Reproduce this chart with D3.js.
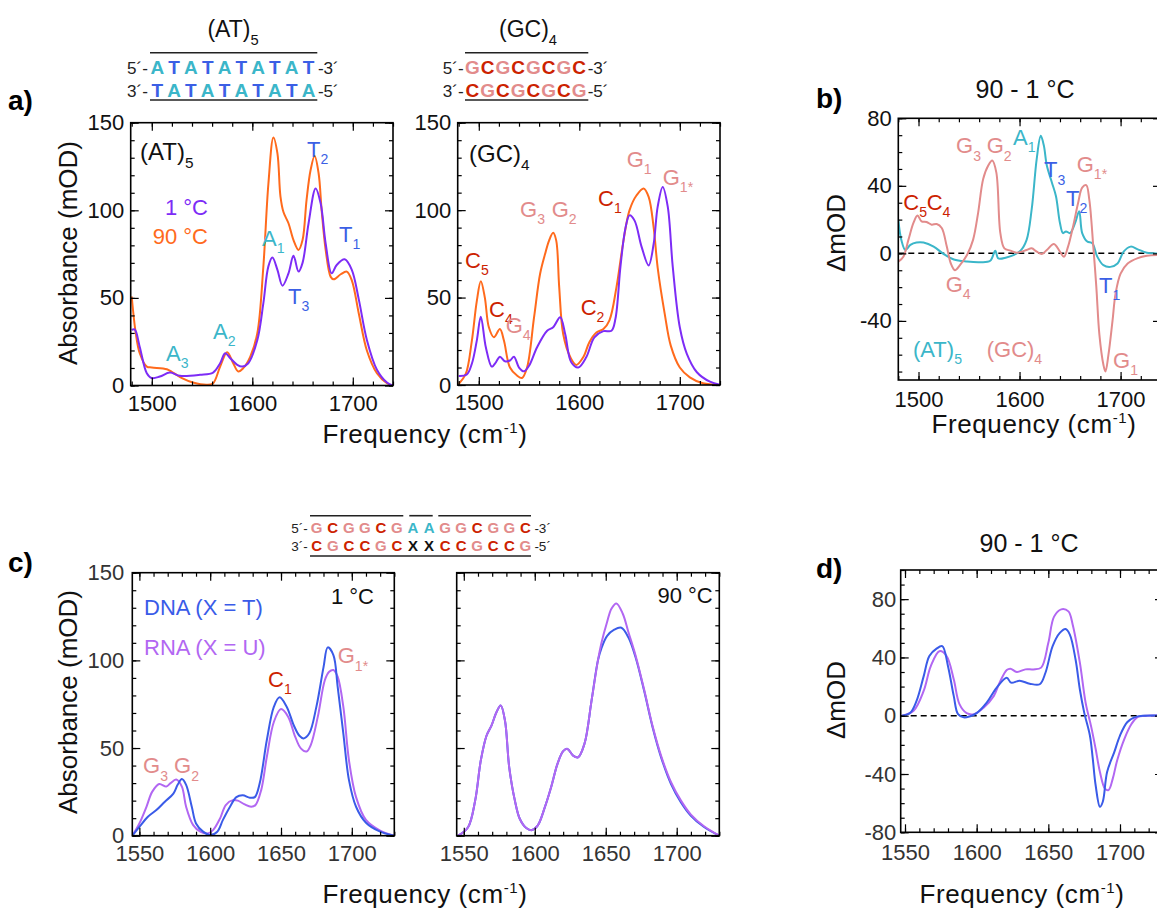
<!DOCTYPE html>
<html><head><meta charset="utf-8">
<script src="https://cdn.jsdelivr.net/npm/d3@7"></script>
<style>body{margin:0;background:#fff}svg{display:block}text{font-family:"Liberation Sans",Arial,Helvetica,sans-serif}</style>
</head><body><svg id="c" width="1157" height="911"></svg>
<script>
// ---------- DATA ----------
// Panel a, (AT)5
const atCold_x = [1480,1483,1488,1495,1500,1508,1518,1528,1548,1561,1568,1573,1578,1585,1590,1596,1605,1611,1616,1620,1625,1630,1636,1641,1646,1650,1656,1663,1668,1673,1679,1684,1692,1699,1706,1714,1724,1734,1740];
const atCold_y = [31.7,32,22,7,4.2,5.1,7.4,5.5,6.1,7.4,12.7,18.4,15.6,11.8,10.8,12.7,26,47,68,73,66,57,64,74,65,70,92.6,112.5,104,81,64,68.8,72,66,49,26,9,1.7,0];
const atHot_x = [1480,1484,1488,1495,1500,1515,1521,1530,1541,1555,1561,1568,1575,1581,1586,1591,1598,1605,1611,1616,1621,1625,1628,1631,1636,1641,1646,1650,1654,1658,1662,1666,1669,1673,1678,1681,1688,1694,1699,1706,1714,1724,1734,1740];
const atHot_y = [50.8,30,18.4,10.8,10.3,9.3,7.4,4.2,1.7,0.4,1.3,10.8,19,12.7,8,9.9,16.5,29.8,67.9,115,141.6,132.5,108,99,92.6,83,77.4,83,106,123,131,121,100,77.4,62,60.6,63.5,65,60,41,20,7,1.3,0];
// Panel a, (GC)4
const gcHot_x = [1480,1487,1493,1498,1502,1506,1510,1515,1521,1525,1531,1538,1543,1548,1555,1561,1566,1570,1574,1577,1580,1584,1591,1597,1604,1610,1617,1624,1630,1637,1644,1650,1657,1664,1669,1674,1678,1685,1691,1700,1710,1723,1740];
const gcHot_y = [0.6,6.3,25,48,59.4,50,33,27.3,32,25.4,10,5.4,4,10,38.8,63.6,75,82.7,87,82.7,56,29,16,11.5,16,24.5,30,32,37,56,82.7,100,108.5,112.4,107.6,90,67,40.7,22.5,10,4.4,1,0];
const gcCold_x = [1480,1488,1493,1498,1502,1507,1513,1517,1521,1526,1531,1535,1540,1545,1550,1558,1568,1574,1581,1586,1592,1599,1607,1615,1624,1632,1636,1641,1646,1650,1655,1662,1669,1674,1678,1683,1688,1693,1700,1707,1717,1730,1740];
const gcCold_y = [5.2,6,12,25.4,39,21.6,10.5,13,16.2,13.6,14,16.2,10,7.8,11,21.6,31,33,38.8,29,13,10,16,27.3,30.8,31,38,68,90,97,94,79,68.4,80.8,102,113.3,102,67.5,33,17.8,7.3,1.9,0.2];
// Panel b, difference 90 - 1 °C
const dAT_x = [1480,1483,1487,1492,1498,1505,1515,1525,1535,1548,1561,1571,1576,1579,1587,1594,1601,1607,1612,1617,1621,1624,1627,1632,1636,1640,1643,1646,1650,1655,1659,1662,1667,1672,1677,1683,1690,1697,1703,1710,1717,1726,1740];
const dAT_y = [20,8,2,5,6.4,6.4,4,-0.4,-3.6,-4.8,-5.2,-4.4,1.6,-3,-2.4,-1,1.6,8,26,56,69.6,64,52,42,34,18,12,13,12,18,25,12,7,6,-2,-7,-8,-6,1,4,2.4,0.4,0];
const dGC_x = [1480,1485,1490,1495,1499,1503,1508,1513,1518,1523,1528,1532,1536,1541,1548,1554,1559,1564,1569,1573,1577,1581,1585,1591,1597,1607,1612,1617,1622,1627,1634,1640,1644,1648,1653,1658,1662,1666,1669,1673,1676,1679,1683,1685,1688,1692,1695,1700,1707,1717,1726,1740];
const dGC_y = [-5,-2,8,18,22.4,19,18.6,17,17.4,15,4,-6,-10,-7,-1,8,24,44,52,55,48,12,3,1.6,0.4,2,3,1,-0.4,2,5.6,1,-2,4,16,30,39,40.4,32,4,-20,-48,-66,-70,-60,-40,-24,-12,-6,-2.8,-1.4,-0.8];
// Panel c, 1 °C
const dna1_x = [1545,1550,1556,1562,1568,1574,1577,1580,1583,1587,1590,1595,1600,1605,1609,1614,1618.5,1623,1628,1631.5,1635,1640,1645,1649,1654,1659,1663,1666,1670,1675,1680,1683,1687,1690,1694,1698,1703,1710,1720,1730];
const dna1_y = [0,5,10.8,14.6,19.4,24,29,32.3,29,16.5,7,2.3,0.4,2.3,9,16.5,22,23,21.7,22,30,54.6,73.6,78.9,73.6,63,57,55.5,58.4,73.6,96,107.4,103,85,58.4,31.7,16.5,7.4,2.3,0];
const rna1_x = [1545,1550,1555,1559,1564,1569,1572,1576,1580,1583,1588,1593,1598,1602,1607,1611,1616,1619.5,1624,1629,1632,1636,1640,1645,1650,1655,1660,1664,1668,1671,1676,1681,1684,1687,1690,1694,1698,1703,1710,1720,1730];
const rna1_y = [0,7,16.5,25,29.5,28,30,32,28,16.5,6,2.3,1.3,3.2,9.9,17.5,20.3,20,18,16.5,17.5,26,45,65,72.2,67.9,56.5,49.8,48,51.7,67.9,88.8,93.5,94.5,90.7,73.6,43,22,9,2.9,0];
// Panel c, 90 °C
const dna90_x = [1546,1553,1558,1562,1566,1569.5,1573,1576,1579,1582,1586,1589.5,1594,1598,1602,1607,1611.5,1616,1620,1623,1627,1630.5,1635,1640,1644.5,1647,1651,1656,1661,1666,1671,1677,1683,1689,1696,1703,1710,1719,1730];
const dna90_y = [0,4.8,20,43,57,62.8,70.4,74.2,65.7,39,20,9.5,4.4,3.2,5.7,16,27.6,41,48.2,49.5,45.7,44.7,52.4,77,100,107,114,117.5,118.6,113,101.8,82.8,61.9,44.7,29.5,19,11.4,5.1,0];
const rna90_x = [1546,1553,1558,1562,1566,1569.5,1573,1576,1579,1582,1586,1589.5,1594,1598,1602,1607,1611.5,1616,1620,1623,1627,1630.5,1635,1640,1644.5,1647,1651,1654,1657.5,1662,1666,1671,1677,1683,1689,1696,1703,1710,1719,1730];
const rna90_y = [0,4.8,20,43,57,62.8,70.4,74.2,65.7,39,20,9.5,4.4,3.2,5.7,16,27.6,41,48.2,49.5,45.7,44.7,52.4,77,100,110,122,129.5,132.5,126.6,116,102.8,83.5,62.5,45.5,30.5,20,12,5.5,0];
// Panel d, difference 90 - 1 °C
const dDNA_x = [1547.7,1553.5,1558,1563,1567,1572,1576,1580,1584,1587,1591,1595,1600,1607,1614,1621,1624,1630,1637,1644,1648,1653,1658,1662,1665,1669,1672,1675,1679,1681,1683,1686,1688,1691,1696,1700,1705,1710,1716.5,1730];
const dDNA_y = [0,1.8,10,27,41,46,47.7,34,13.6,1.1,-1.1,-0.5,1.8,9,19.3,26,22.7,24,22,21.6,29.5,47.7,56.8,59.5,55.7,38.6,18,2.3,-13.6,-29.5,-47.7,-62.5,-59,-38.6,-25,-13.6,-4.5,-1.1,0,0];
const dRNA_x = [1548,1556,1563,1568,1574,1579,1584,1588,1593,1598,1605,1612,1616,1621,1623.5,1628,1634,1639.5,1645,1650,1654,1659,1664,1667,1672,1676,1680,1683,1686,1689.5,1692,1695,1698,1703,1708,1712,1719,1730];
const dRNA_y = [0,3.4,17,34,44.3,41,25,8,1.8,1.1,5.7,13.6,22.7,31.4,32.3,30,31.8,31.8,33,50,68,73,71.6,62.5,36.4,9,-8,-22.7,-38.6,-50,-51,-43,-30.7,-16,-5.7,-1.1,0,0];

// tick labels
const absTicks = [0,50,100,150];
const freqTicksA = [1500,1600,1700];
const freqTicksC = [1550,1600,1650,1700];
const dTicksB = [-40,0,40,80];
const dTicksD = [-80,-40,0,40,80];

// sequences
const atTop = "ATATATATAT", atBot = "TATATATATA";
const gcTop = "GCGCGCGC", gcBot = "CGCGCGCG";
const mixTop = "GCGGCGAAGGCGGC", mixBot = "CGCCGCXXCCGCCG";

// ---------- STYLE ----------
const COL = {orange:'#ff6a1c', violet:'#7d2cf6', cyan:'#3bb6c9', tblue:'#3b5fe5', cred:'#cc2200', gpink:'#e28b8b', dna:'#3a5be8', rna:'#b267f2', x:'#000'};
const letterColor = {A:COL.cyan, T:COL.tblue, G:COL.gpink, C:COL.cred, X:'#111'};
const svg = d3.select('#c');
const defs = svg.append('defs');
let clipN = 0;

function makePanel(o){
  const x = d3.scaleLinear().domain(o.xd).range([o.L, o.R]);
  const y = d3.scaleLinear().domain(o.yd).range([o.B, o.T]);
  const id = 'clip' + (clipN++);
  defs.append('clipPath').attr('id', id).append('rect')
    .attr('x', o.L).attr('y', o.T).attr('width', o.R - o.L).attr('height', o.B - o.T);
  const g = svg.append('g');
  const plot = g.append('g').attr('clip-path', `url(#${id})`);
  if (o.zero) {
    plot.append('line').attr('x1', o.L).attr('x2', o.R).attr('y1', y(0)).attr('y2', y(0))
      .attr('stroke', '#000').attr('stroke-width', 1.5).attr('stroke-dasharray', '6,4');
  }
  const line = d3.line().x(d => x(d[0])).y(d => y(d[1])).curve(d3.curveCatmullRom.alpha(0.5));
  o.series.forEach(s => {
    const pts = s.x.map((v, i) => [v, s.y[i]]);
    plot.append('path').datum(pts).attr('d', line).attr('fill', 'none')
      .attr('stroke', s.c).attr('stroke-width', 2).attr('stroke-linejoin', 'round');
  });
  const fmt = d => String(d);
  const mk = (axis, tr, vals, size, labels, pad) => {
    const a = g.append('g').attr('transform', tr)
      .call(axis.tickValues(vals).tickSize(size).tickPadding(pad || 0).tickFormat(labels ? fmt : () => ''));
    a.select('.domain').remove();
    a.selectAll('line').attr('stroke', '#000').attr('stroke-width', 1.2);
    a.selectAll('text').attr('font-size', 22).attr('font-family', '"Liberation Sans", Arial, sans-serif').attr('fill', o.tc || '#111');
  };
  mk(d3.axisBottom(x), `translate(0,${o.B})`, o.xMinor, -4, false);
  mk(d3.axisBottom(x), `translate(0,${o.B})`, o.xMajor, -8, true, o.xpad);
  mk(d3.axisTop(x), `translate(0,${o.T})`, o.xMinor, -4, false);
  mk(d3.axisTop(x), `translate(0,${o.T})`, o.xMajor, -8, false);
  mk(d3.axisLeft(y), `translate(${o.L},0)`, o.yMinor, -4, false);
  mk(d3.axisLeft(y), `translate(${o.L},0)`, o.yMajor, -8, o.yLabels, o.ypad);
  mk(d3.axisRight(y), `translate(${o.R},0)`, o.yMinor, -4, false);
  mk(d3.axisRight(y), `translate(${o.R},0)`, o.yMajor, -8, false);
  g.append('rect').attr('x', o.L).attr('y', o.T).attr('width', o.R - o.L).attr('height', o.B - o.T)
    .attr('fill', 'none').attr('stroke', '#000').attr('stroke-width', 1.6);
  return {x, y};
}

function lab(x, y, main, sub, color, size, anchor){
  size = size || 22;
  const t = svg.append('text').attr('x', x).attr('y', y).attr('fill', color)
    .attr('font-size', size).attr('text-anchor', anchor || 'start');
  t.append('tspan').text(main);
  if (sub) t.append('tspan').attr('font-size', size * 0.64).attr('dy', size * 0.33).text(sub);
  return t;
}
function freqLabel(cx, y){
  const t = svg.append('text').attr('x', cx).attr('y', y).attr('font-size', 26)
    .attr('text-anchor', 'middle').attr('fill', '#111').attr('letter-spacing', 0.6);
  t.append('tspan').text('Frequency (cm');
  t.append('tspan').attr('font-size', 15).attr('dy', -10).text('-1');
  t.append('tspan').attr('dy', 10).text(')');
}
function yLabel(x, cy, txt){
  svg.append('text').attr('transform', `translate(${x},${cy}) rotate(-90)`).attr('font-size', 26)
    .attr('text-anchor', 'middle').attr('fill', '#111').text(txt);
}
function seqRow(x0, step, y, prefix, letters, suffix, size){
  svg.append('text').attr('x', x0 - step / 2 - 1).attr('y', y).attr('font-size', size * 0.9)
    .attr('text-anchor', 'end').attr('fill', '#222').text(prefix);
  letters.split('').forEach((ch, i) => {
    svg.append('text').attr('x', x0 + i * step).attr('y', y).attr('font-size', size)
      .attr('font-weight', 'bold').attr('text-anchor', 'middle').attr('fill', letterColor[ch]).text(ch);
  });
  svg.append('text').attr('x', x0 + (letters.length - 1) * step + step / 2 + 1).attr('y', y)
    .attr('font-size', size * 0.9).attr('text-anchor', 'start').attr('fill', '#222').text(suffix);
}
function hline(x1, x2, y){
  svg.append('line').attr('x1', x1).attr('x2', x2).attr('y1', y).attr('y2', y)
    .attr('stroke', '#222').attr('stroke-width', 1.6);
}

// ---------- PANEL a ----------
makePanel({L:130.7, R:393, T:122.7, B:385.5, xd:[1479,1740], yd:[0,150],
  xMajor:freqTicksA, xMinor:d3.range(1480,1741,20), yMajor:absTicks, yMinor:d3.range(0,151,10),
  yLabels:true, xpad:9.5, ypad:6.5,
  series:[{x:atHot_x, y:atHot_y, c:COL.orange},{x:atCold_x, y:atCold_y, c:COL.violet}]});
makePanel({L:457.7, R:720, T:122.7, B:385, xd:[1479,1740], yd:[0,150],
  xMajor:freqTicksA, xMinor:d3.range(1480,1741,20), yMajor:absTicks, yMinor:d3.range(0,151,10),
  yLabels:true, xpad:9.5, ypad:6.5,
  series:[{x:gcHot_x, y:gcHot_y, c:COL.orange},{x:gcCold_x, y:gcCold_y, c:COL.violet}]});

// ---------- PANEL b ----------
makePanel({L:898.3, R:1161, T:118.3, B:380, xd:[1480,1740], yd:[-75,80], zero:true,
  xMajor:freqTicksA, xMinor:d3.range(1480,1741,20), yMajor:dTicksB, yMinor:d3.range(-70,81,10),
  yLabels:true, xpad:11.5, ypad:6.5,
  series:[{x:dAT_x, y:dAT_y, c:COL.cyan},{x:dGC_x, y:dGC_y, c:COL.gpink}]});

// ---------- PANEL c ----------
makePanel({L:132.3, R:394.3, T:572.7, B:835.7, xd:[1545,1730], yd:[0,150], tc:'#333',
  xMajor:freqTicksC, xMinor:d3.range(1550,1731,10), yMajor:absTicks, yMinor:d3.range(0,151,10),
  yLabels:true, xpad:9.5, ypad:8,
  series:[{x:rna1_x, y:rna1_y, c:COL.rna},{x:dna1_x, y:dna1_y, c:COL.dna}]});
makePanel({L:456.7, R:719.3, T:572.7, B:835.7, xd:[1545,1730], yd:[0,150], tc:'#333',
  xMajor:freqTicksC, xMinor:d3.range(1550,1731,10), yMajor:absTicks, yMinor:d3.range(0,151,10),
  yLabels:false, xpad:9.5,
  series:[{x:dna90_x, y:dna90_y, c:COL.dna},{x:rna90_x, y:rna90_y, c:COL.rna}]});

// ---------- PANEL d ----------
makePanel({L:900.7, R:1163, T:570, B:832.3, xd:[1547,1730], yd:[-80,100], zero:true, tc:'#333',
  xMajor:freqTicksC, xMinor:d3.range(1550,1731,10), yMajor:dTicksD, yMinor:d3.range(-80,101,10),
  yLabels:true, xpad:12.5, ypad:4.5,
  series:[{x:dRNA_x, y:dRNA_y, c:COL.rna},{x:dDNA_x, y:dDNA_y, c:COL.dna}]});

// ---------- TEXT ----------
// panel letters
[['a)',8,110],['b)',816,108],['c)',8,572],['d)',816,578]].forEach(p =>
  svg.append('text').attr('x', p[1]).attr('y', p[2]).attr('font-size', 28).attr('font-weight', 'bold').attr('fill', '#000').text(p[0]));

// top titles and sequences
lab(233, 37, '(AT)', '5', '#111', 23, 'middle');
lab(528, 37, '(GC)', '4', '#111', 23, 'middle');
hline(150, 317.3, 52.7); hline(150, 317.3, 100);
seqRow(157.3, 16.8, 74, '5\u00b4-', atTop, '-3\u00b4', 19);
seqRow(157.3, 16.8, 96.5, '3\u00b4-', atBot, '-5\u00b4', 19);
hline(465, 588.3, 52.7); hline(465, 588.3, 100);
seqRow(472.3, 15.25, 74, '5\u00b4-', gcTop, '-3\u00b4', 19);
seqRow(472.3, 15.25, 96.5, '3\u00b4-', gcBot, '-5\u00b4', 19);

// panel c sequence
hline(310, 403.3, 515.7); hline(409.3, 432.7, 515.7); hline(438.3, 531, 515.7); hline(310, 531, 556);
seqRow(316.7, 16.05, 532.7, '5\u00b4-', mixTop, '-3\u00b4', 15);
seqRow(316.7, 16.05, 551, '3\u00b4-', mixBot, '-5\u00b4', 15);

// panel a labels
lab(140, 160, '(AT)', '5', '#111', 24);
lab(208, 215, '1 °C', null, COL.violet, 22, 'end');
lab(208, 244, '90 °C', null, COL.orange, 22, 'end');
lab(166, 360.5, 'A', '3', COL.cyan);
lab(213, 339, 'A', '2', COL.cyan);
lab(262, 245.5, 'A', '1', COL.cyan);
lab(288, 304, 'T', '3', COL.tblue);
lab(307, 157, 'T', '2', COL.tblue);
lab(339, 241.5, 'T', '1', COL.tblue);
lab(469, 161.7, '(GC)', '4', '#111', 24);
lab(465, 268, 'C', '5', COL.cred);
lab(489, 316.7, 'C', '4', COL.cred);
lab(505.7, 333, 'G', '4', COL.gpink);
lab(520, 217, 'G', '3', COL.gpink);
lab(551.7, 217, 'G', '2', COL.gpink);
lab(580.7, 315, 'C', '2', COL.cred);
lab(598, 206, 'C', '1', COL.cred);
lab(626.7, 166.7, 'G', '1', COL.gpink);
lab(662.7, 185, 'G', '1*', COL.gpink);
freqLabel(425, 443);
yLabel(77, 253, 'Absorbance (mOD)');

// panel b labels
svg.append('text').attr('x', 1025).attr('y', 98).attr('font-size', 25).attr('text-anchor', 'middle').attr('fill', '#111').text('90 - 1 °C');
lab(903.3, 210, 'C', '5', COL.cred);
lab(926.7, 210, 'C', '4', COL.cred);
lab(956, 153.3, 'G', '3', COL.gpink);
lab(986.7, 153.3, 'G', '2', COL.gpink);
lab(1013, 145, 'A', '1', COL.cyan);
lab(1044, 177.3, 'T', '3', COL.tblue);
lab(1076.7, 171.7, 'G', '1*', COL.gpink);
lab(1066, 206, 'T', '2', COL.tblue);
lab(945.7, 291.7, 'G', '4', COL.gpink);
lab(1099, 292.7, 'T', '1', COL.tblue);
lab(1113, 368, 'G', '1', COL.gpink);
lab(913, 356.7, '(AT)', '5', COL.cyan);
lab(986.7, 356.7, '(GC)', '4', COL.gpink);
freqLabel(1034, 433);
yLabel(845, 233, '\u0394mOD');

// panel c labels
lab(144, 615, 'DNA (X = T)', null, COL.dna, 22);
lab(144, 655, 'RNA (X = U)', null, COL.rna, 22);
lab(374, 604, '1 °C', null, '#111', 22, 'end');
lab(712.7, 603.3, '90 °C', null, '#111', 22, 'end');
lab(268, 686.7, 'C', '1', COL.cred);
lab(337.7, 663.3, 'G', '1*', COL.gpink);
lab(143, 773.3, 'G', '3', COL.gpink);
lab(174, 773.3, 'G', '2', COL.gpink);
freqLabel(425, 903);
yLabel(77, 702, 'Absorbance (mOD)');

// panel d labels
svg.append('text').attr('x', 1029).attr('y', 552).attr('font-size', 25).attr('text-anchor', 'middle').attr('fill', '#111').text('90 - 1 °C');
freqLabel(1022, 903);
yLabel(845, 700, '\u0394mOD');
</script></body></html>
